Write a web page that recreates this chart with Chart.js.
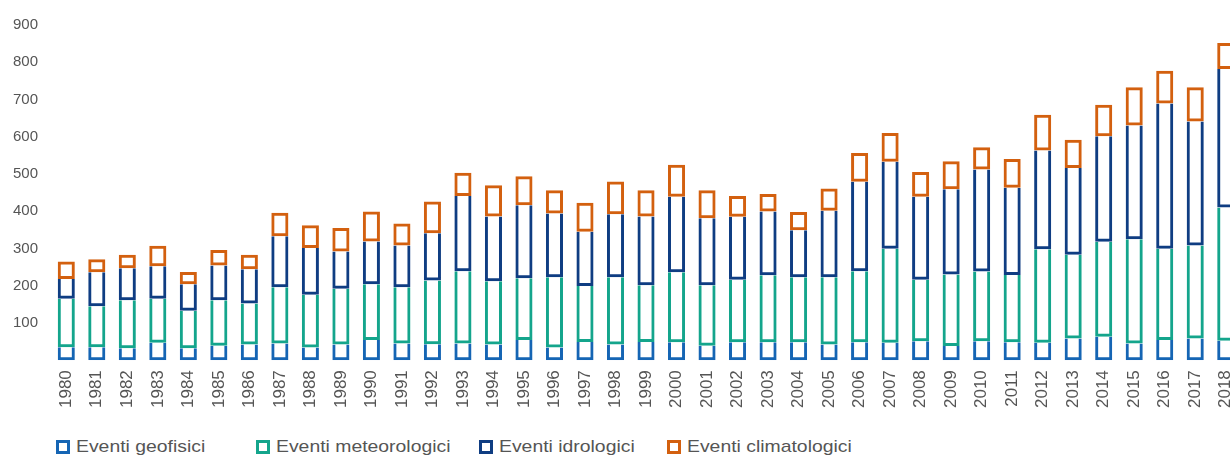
<!DOCTYPE html>
<html>
<head>
<meta charset="utf-8">
<script src="https://cdn.jsdelivr.net/npm/chart.js@4.4.1/dist/chart.umd.min.js"></script>
<style>
html,body{margin:0;padding:0;background:#fff;overflow:hidden;width:1230px;height:457px;position:relative;}
#wrap{position:absolute;left:0;top:0;width:1241px;height:422px;}
.item{position:absolute;top:440px;height:14px;display:flex;align-items:center;font-family:'Liberation Sans',Arial,sans-serif;font-size:17px;color:#555;white-space:nowrap;}
.box{width:14px;height:14px;border:3px solid;box-sizing:border-box;background:#fff;flex:none;}
.txt{margin-left:6px;display:inline-block;transform:scaleX(1.14);transform-origin:left center;}
</style>
</head>
<body>
<div id="wrap"><canvas id="c" width="1241" height="422"></canvas></div>
<div id="legend"></div>
<script>
const years = ["1980","1981","1982","1983","1984","1985","1986","1987","1988","1989","1990","1991","1992","1993","1994","1995","1996","1997","1998","1999","2000","2001","2002","2003","2004","2005","2006","2007","2008","2009","2010","2011","2012","2013","2014","2015","2016","2017","2018"];
const geofisici = [35,35,32,47,32,39,42,45,34,42,54,45,43,45,42,54,34,49,42,49,48,39,48,48,48,42,48,47,51,38,51,48,47,58,63,45,54,58,52];
const meteorologici = [130,110,129,118,101,122,110,151,142,150,150,151,171,194,170,166,189,150,181,152,188,162,168,180,175,181,191,252,165,192,187,181,251,225,255,280,245,250,358];
const idrologici = [53,91,86,87,71,93,92,137,125,100,115,112,127,202,174,196,171,146,169,185,203,180,169,171,126,178,240,234,223,229,274,234,265,233,283,305,390,333,372];
const climatologici = [47,35,36,55,33,42,39,63,61,63,80,59,85,62,84,78,62,78,88,70,86,75,56,47,49,60,77,77,66,75,60,77,96,76,85,103,88,92,70];
const seriesNames = ["Eventi geofisici","Eventi meteorologici","Eventi idrologici","Eventi climatologici"];
const yTicks = [100,200,300,400,500,600,700,800,900];

const colors = ["#1565b4","#14a58c","#0f3d82","#d3600f"];
const legendX = [56,256,479,667];

const lower = {top:0,left:3,right:3,bottom:3};
const upper = {top:3,left:3,right:3,bottom:3};
const values = [geofisici, meteorologici, idrologici, climatologici];

const datasets = values.map((arr,i)=>({
  label: seriesNames[i],
  data: arr,
  backgroundColor: 'rgba(255,255,255,0)',
  borderColor: colors[i],
  borderWidth: i===3 ? upper : lower,
  borderSkipped: false,
  inflateAmount: 0,
  barPercentage: 0.56,
  categoryPercentage: 1.0
}));

new Chart(document.getElementById('c'), {
  type: 'bar',
  data: { labels: years, datasets },
  options: {
    responsive: false,
    animation: false,
    layout: { padding: { left: 0, top: 25, right: 0, bottom: 4 } },
    plugins: { legend: { display: false }, tooltip: { enabled: false } },
    scales: {
      x: {
        stacked: true,
        grid: { display: false, drawTicks: false },
        border: { display: false },
        afterFit: s => { s.paddingLeft = 0; s.paddingRight = 0; },
        ticks: {
          minRotation: 90, maxRotation: 90, autoSkip: false, padding: 10,
          color: '#555', font: { family: "'Liberation Sans', Arial, sans-serif", size: 17 }
        }
      },
      y: {
        stacked: true, min: 0, max: 900,
        grid: { display: false, drawTicks: false },
        border: { display: false },
        afterBuildTicks: axis => { axis.ticks = yTicks.map(v => ({ value: v })); },
        ticks: {
          padding: 13, color: '#555',
          font: { family: "'Liberation Sans', Arial, sans-serif", size: 15 }
        }
      }
    }
  }
});

const leg = document.getElementById('legend');
seriesNames.forEach((name,i)=>{
  const it = document.createElement('div');
  it.className = 'item';
  it.style.left = legendX[i] + 'px';
  const b = document.createElement('span');
  b.className = 'box';
  b.style.borderColor = colors[i];
  const t = document.createElement('span');
  t.className = 'txt';
  t.textContent = name;
  it.appendChild(b); it.appendChild(t);
  leg.appendChild(it);
});
</script>
</body>
</html>
